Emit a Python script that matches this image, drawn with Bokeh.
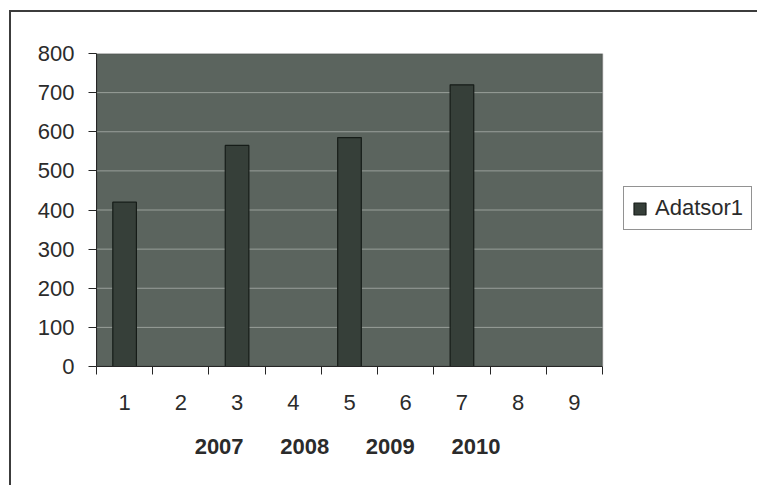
from bokeh.plotting import figure
from bokeh.models import (ColumnDataSource, Range1d, FixedTicker, Legend, LegendItem,
                          BoxAnnotation)
from bokeh.embed import file_html
from bokeh.resources import INLINE

# ---- data ----
categories = [1, 2, 3, 4, 5, 6, 7, 8, 9]
values = [420, None, 565, None, 585, None, 720, None, None]
y_ticks = [0, 100, 200, 300, 400, 500, 600, 700, 800]
years = ["2007", "2008", "2009", "2010"]
series_name = "Adatsor1"

xs = [c for c, v in zip(categories, values) if v is not None]
tops = [v for v in values if v is not None]
src = ColumnDataSource(dict(x=xs, top=tops))

FONT = "Liberation Sans"
TXT = "#2b2b2b"
AX = "#262626"
NBSP = "\u00a0"

# layout: the plot area occupies PLOT_W px of a wider frame; the rest holds the legend
PLOT_W, FRAME_W, FRAME_H = 506, 661, 313
x_lo, x_hi = 0.5, len(categories) + 0.5
y_lo, y_hi = y_ticks[0], y_ticks[-1]
x_end = x_hi + (FRAME_W - PLOT_W) * (x_hi - x_lo) / PLOT_W

p = figure(frame_width=FRAME_W, frame_height=FRAME_H, output_backend="svg",
           toolbar_location=None,
           x_range=Range1d(x_lo, x_end), y_range=Range1d(y_lo, y_hi),
           min_border_left=85, min_border_right=0, min_border_top=41, min_border_bottom=119)

p.background_fill_color = "white"
p.border_fill_color = "white"
p.outline_line_color = None
p.styles = {"border-left": "2px solid #3c3c3c", "border-top": "2px solid #3c3c3c",
            "margin-left": "9px", "margin-top": "10px"}

# plot area
p.add_layout(BoxAnnotation(left=x_lo, right=x_hi, bottom=y_lo, top=y_hi,
                           fill_color="#5b645e", fill_alpha=1.0,
                           line_color=AX, line_width=1.5, level="underlay"))
p.grid.visible = False
p.segment(x0=x_lo, x1=x_hi, y0=y_ticks[1:-1], y1=y_ticks[1:-1],
          line_color="#d8dcd8", line_alpha=0.5, line_width=1)

bars = p.vbar(x="x", top="top", width=0.42, bottom=0, source=src,
              fill_color="#363f39", line_color="#161c18", line_width=1.2)

# y axis
p.yaxis.ticker = FixedTicker(ticks=y_ticks)
p.yaxis.axis_line_color = AX
p.yaxis.major_tick_line_color = AX
p.yaxis.major_tick_out = 8
p.yaxis.major_tick_in = 0
p.yaxis.minor_tick_line_color = None
p.yaxis.major_label_text_font = FONT
p.yaxis.major_label_text_font_size = "22px"
p.yaxis.major_label_text_color = TXT
p.yaxis.major_label_standoff = 14

# x axis: labels at categories, ticks at boundaries
boundaries = [c - 0.5 for c in categories] + [categories[-1] + 0.5]
p.xaxis.bounds = (x_lo, x_hi)
p.xaxis.ticker = FixedTicker(ticks=categories, minor_ticks=boundaries)
p.xaxis.axis_line_color = AX
p.xaxis.major_tick_line_color = None
p.xaxis.major_tick_out = 0
p.xaxis.major_tick_in = 0
p.xaxis.minor_tick_line_color = AX
p.xaxis.minor_tick_out = 8
p.xaxis.minor_tick_in = 0
p.xaxis.major_label_text_font = FONT
p.xaxis.major_label_text_font_size = "22px"
p.xaxis.major_label_text_color = TXT
p.xaxis.major_label_standoff = 20
# axis title centred under the plot area (trailing no-break spaces offset the frame's legend zone)
p.xaxis.axis_label = (NBSP * 6).join(years) + NBSP * 26
p.xaxis.axis_label_text_font = FONT
p.xaxis.axis_label_text_font_size = "22px"
p.xaxis.axis_label_text_font_style = "bold"
p.xaxis.axis_label_text_color = TXT
p.xaxis.axis_label_standoff = 21

legend = Legend(items=[LegendItem(label=series_name, renderers=[bars])],
                location=(PLOT_W + 21, 136), padding=8,
                glyph_width=15, glyph_height=15, label_standoff=8,
                label_text_font=FONT, label_text_font_size="22px",
                label_text_color=TXT, border_line_color=AX,
                border_line_width=1.5, background_fill_color="white")
p.add_layout(legend, "center")

open("out.html", "w").write(file_html(p, INLINE))
